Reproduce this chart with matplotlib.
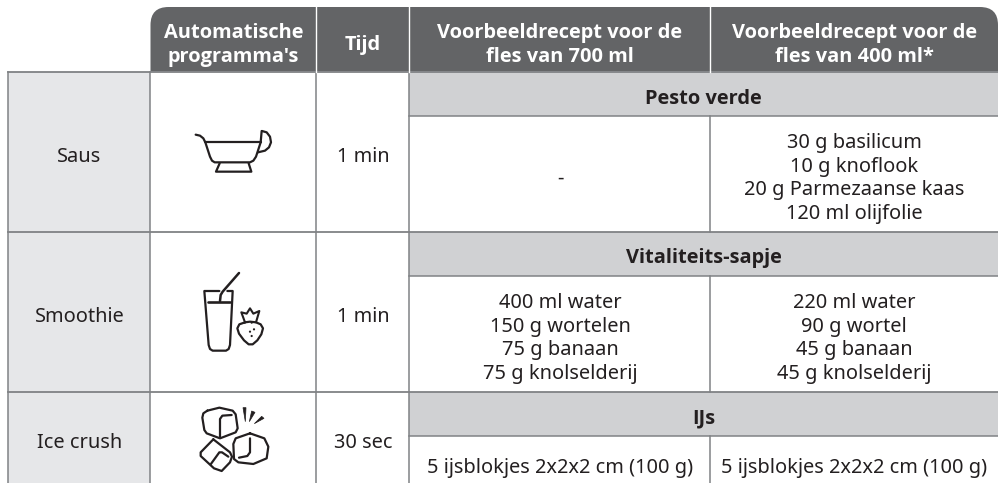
import matplotlib
matplotlib.use("Agg")
import matplotlib.pyplot as plt
from matplotlib.patches import Rectangle, PathPatch, Polygon, Circle
from matplotlib.path import Path

W, H = 998, 483
plt.rcParams['font.family'] = ['Noto Sans', 'DejaVu Sans']

headers = ["Automatische\nprogramma's", "Tijd", "Voorbeeldrecept voor de\nfles van 700 ml", "Voorbeeldrecept voor de\nfles van 400 ml*"]
programs = ["Saus", "Smoothie", "Ice crush"]
times = ["1 min", "1 min", "30 sec"]
recipes = ["Pesto verde", "Vitaliteits-sapje", "IJs"]
col700 = ["-", "400 ml water\n150 g wortelen\n75 g banaan\n75 g knolselderij", "5 ijsblokjes 2x2x2 cm (100 g)"]
col400 = ["30 g basilicum\n10 g knoflook\n20 g Parmezaanse kaas\n120 ml olijfolie",
          "220 ml water\n90 g wortel\n45 g banaan\n45 g knolselderij", "5 ijsblokjes 2x2x2 cm (100 g)"]

X = [8.5, 150.5, 316.5, 409.5, 710.5, 998]
HEAD_TOP, HEAD_BOT = 7, 71.5
ROWS = [71.5, 231.5, 391.5, 483]
BAR = 44
DARK, BARC, SIDE, LINE, INK = "#636466", "#d0d1d3", "#e6e7e9", "#808285", "#231f20"
FS = 14.4
LS = 1.24
BOLD = dict(family=['Open Sans', 'DejaVu Sans'], fontweight="bold")

fig = plt.figure(figsize=(W/100, H/100), dpi=100)
ax = fig.add_axes([0, 0, 1, 1])
ax.set_xlim(0, W); ax.set_ylim(H, 0); ax.axis("off")

# header
R = 18
xl, xr = X[1], X[5]
hv = [(xl, HEAD_BOT), (xl, HEAD_TOP+R), (xl, HEAD_TOP), (xl+R, HEAD_TOP), (xr-R, HEAD_TOP), (xr, HEAD_TOP), (xr, HEAD_TOP+R), (xr, HEAD_BOT), (xl, HEAD_BOT)]
hc = [Path.MOVETO, Path.LINETO, Path.CURVE3, Path.CURVE3, Path.LINETO, Path.CURVE3, Path.CURVE3, Path.LINETO, Path.CLOSEPOLY]
ax.add_patch(PathPatch(Path(hv, hc), fc=DARK, ec="none"))
for i, h in enumerate(headers):
    cx = (X[i+1] + X[i+2]) / 2
    ax.text(cx, (HEAD_TOP+HEAD_BOT)/2 + 5.5, h, ha="center", va="center", color="white", fontsize=FS, linespacing=LS, **BOLD)
    if i:
        ax.plot([X[i+1]]*2, [HEAD_TOP, HEAD_BOT], color="white", lw=1.0, zorder=3)

# rows
for r in range(3):
    t, b = ROWS[r], ROWS[r+1]
    ax.add_patch(Rectangle((X[0], t), X[1]-X[0], b-t, fc=SIDE, ec="none"))
    ax.add_patch(Rectangle((X[3], t), X[5]-X[3], BAR, fc=BARC, ec="none"))
    lab_y = (t+b)/2 + 5.5 if r < 2 else 443.5
    ax.text((X[0]+X[1])/2, lab_y, programs[r], ha="center", va="center", color=INK, fontsize=FS)
    ax.text((X[2]+X[3])/2, lab_y, times[r], ha="center", va="center", color=INK, fontsize=FS)
    ax.text((X[3]+X[5])/2, t+BAR/2+5, recipes[r], ha="center", va="center", color=INK, fontsize=FS, **BOLD)
    body = (t+BAR+b)/2 + 5 if r < 2 else 468.5
    ax.text((X[3]+X[4])/2, body, col700[r], ha="center", va="center", color=INK, fontsize=FS, linespacing=LS)
    ax.text((X[4]+X[5])/2, body, col400[r], ha="center", va="center", color=INK, fontsize=FS, linespacing=LS)
    ax.plot([X[3], X[5]], [t+BAR]*2, color=LINE, lw=1.1)
    ax.plot([X[4]]*2, [t+BAR, b], color=LINE, lw=1.1)

for y in ROWS[:3]:
    ax.plot([X[0], X[5]], [y, y], color=LINE, lw=1.3, zorder=2)
for x in X[:4]:
    ax.plot([x, x], [ROWS[0], H], color=LINE, lw=1.1, zorder=2)

def line(ox, oy, pts, lw=1.6, closed=False):
    xs = [ox + p[0]/3 for p in pts]
    ys = [oy + p[1]/3 for p in pts]
    if closed:
        xs.append(xs[0]); ys.append(ys[0])
    ax.plot(xs, ys, color=INK, lw=lw, solid_capstyle="round", solid_joinstyle="round", zorder=4)

# gravy boat
o = (170, 110)
line(*o, [(77,74),(90,77),(100,85),(106,97),(120,140),(126,152),(134,157),(240,157),(250,152),(258,140),(272,97)])
line(*o, [(106,97),(272,97)])
line(*o, [(276,63),(290,67),(300,80),(303,97),(297,112),(285,122),(264,127)])
line(*o, [(275,63),(272,97)])
line(*o, [(149,160),(138,185),(244,185),(236,160)])

# smoothie
o = (170, 235)
line(*o, [(148,168),(103,168),(116,330),(120,342),(128,347),(168,347),(176,342),(180,330),(188,168),(172,168)])
line(*o, [(115,200),(180,200)], lw=1.9)
line(*o, [(150,198),(152,180),(158,170),(207,114)], lw=1.8)
line(*o, [(225,262),(240,260),(258,262),(272,268),(279,280),(274,298),(262,316),(248,328),(236,328),(222,316),(207,296),(202,280),(208,268),(225,262)])
line(*o, [(225,262),(214,232),(230,236),(240,220),(250,236),(268,228),(258,262)], lw=1.5)
for px, py in [(245,263),(252,283),(240,290),(245,303)]:
    ax.add_patch(Circle((o[0]+px/3, o[1]+py/3), 1.1, fc=INK, ec="none", zorder=4))

# ice
o = (170, 375)
line(*o, [(112,107),(148,98),(188,107),(197,118),(203,160),(197,172),(150,190),(110,175),(103,165),(97,128),(100,115)], closed=True)
line(*o, [(150,188),(150,132),(157,122),(185,120)])
line(*o, [(240,175),(283,190),(295,215),(290,250),(250,267),(205,262),(192,252),(190,207),(197,190)], closed=True)
line(*o, [(240,190),(240,232),(232,243),(207,248)])
line(*o, [(130,193),(180,232),(186,245),(180,262),(155,288),(132,280),(92,243),(92,232)], closed=True)
line(*o, [(122,268),(148,232),(156,232),(175,245)])
for tri in [[(219,98),(228,98),(226,140)], [(245,108),(255,112),(238,140)], [(275,124),(282,130),(253,146)]]:
    ax.add_patch(Polygon([(o[0]+a/3, o[1]+b/3) for a, b in tri], fc=INK, ec=INK, lw=0.5, zorder=4))

fig.savefig("out.png", dpi=100)
